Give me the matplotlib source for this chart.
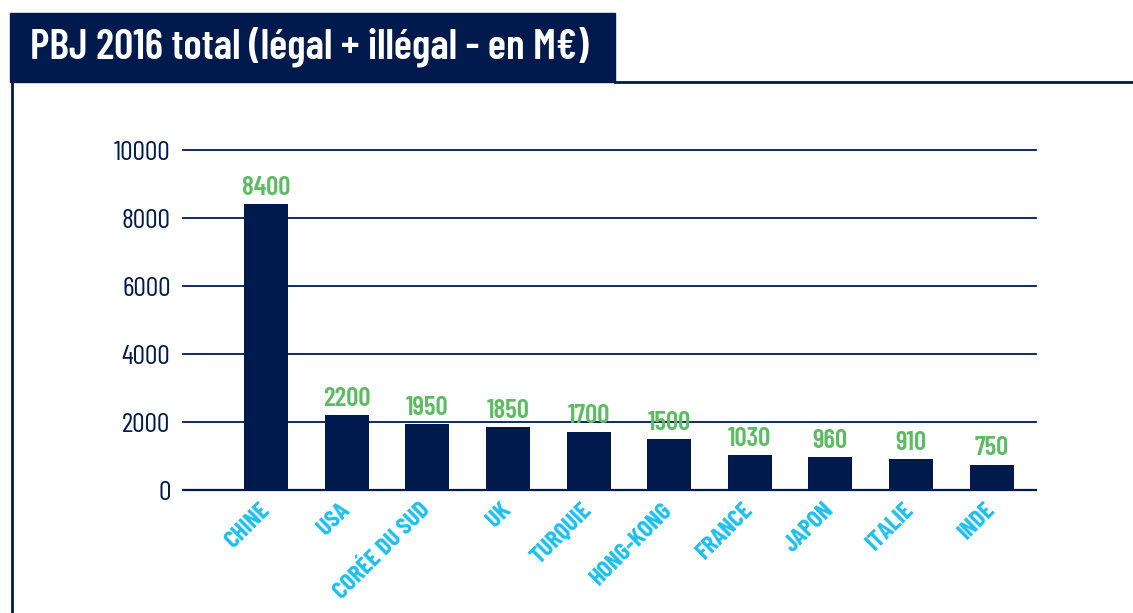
import numpy as np
import matplotlib.pyplot as plt
from matplotlib.patches import Rectangle
from matplotlib.lines import Line2D

pays = ['CHINE', 'USA', 'CORÉE DU SUD', 'UK', 'TURQUIE', 'HONG-KONG',
        'FRANCE', 'JAPON', 'ITALIE', 'INDE']
pbj = [8400, 2200, 1950, 1850, 1700, 1500, 1030, 960, 910, 750]
yticks = [0, 2000, 4000, 6000, 8000, 10000]
titre = 'PBJ 2016 total (légal + illégal - en M€)'

navy = '#001a4e'
green = '#5dbb63'
cyan = '#1ec0ef'

plt.rcParams['font.family'] = ['Barlow Condensed', 'DejaVu Sans']

fig = plt.figure(figsize=(11.33, 6.13), dpi=100)
W, H = 1133, 613

# bandeau du titre + lignes du cadre
fig.patches.append(Rectangle((10 / W, 1 - 82 / H), 605 / W, 69 / H,
                             transform=fig.transFigure, color=navy, zorder=0))
fig.text(30 / W, 1 - 47 / H, titre, color='white', fontsize=30.5,
         fontweight='semibold', va='center', ha='left')
fig.lines.append(Line2D([615 / W, 1], [1 - 82 / H, 1 - 82 / H],
                        transform=fig.transFigure, color=navy, lw=2))
fig.lines.append(Line2D([12 / W, 12 / W], [0, 1 - 82 / H],
                        transform=fig.transFigure, color=navy, lw=2))

ax = fig.add_axes([183 / W, 1 - 490 / H, 853 / W, 340 / H])
x = np.arange(len(pays))
ax.bar(x, pbj, width=0.545, color=navy, zorder=3)
for xi, v in zip(x, pbj):
    ax.annotate(str(v), (xi, v), xytext=(0, 3), textcoords='offset points',
                ha='center', va='bottom', color=green, fontsize=19.5,
                fontweight='semibold')

ax.set_xlim(-1.03, 9.55)
ax.set_ylim(0, 10000)
ax.set_yticks(yticks)
ax.set_yticklabels([str(t) for t in yticks], color=navy, fontsize=20)
for t in yticks[1:]:
    ax.axhline(t, color=navy, lw=1.3, zorder=1, clip_on=False)

ax.set_xticks(x)
ax.set_xticklabels(pays, rotation=45, ha='right', va='center',
                   rotation_mode='anchor', color=cyan, fontsize=18,
                   fontweight='bold')
ax.tick_params(axis='x', length=0, pad=12)
ax.tick_params(axis='y', length=0, pad=9)

for s in ['top', 'right', 'left']:
    ax.spines[s].set_visible(False)
ax.spines['bottom'].set_color(navy)
ax.spines['bottom'].set_linewidth(1.6)

fig.savefig('out.png', dpi=100)
